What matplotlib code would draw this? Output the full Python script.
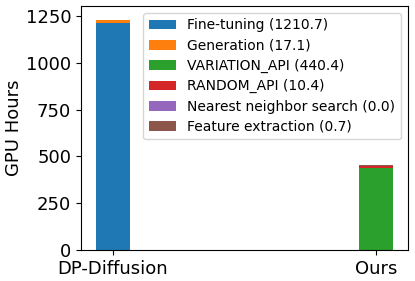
import matplotlib
matplotlib.use("Agg")
import matplotlib.pyplot as plt
import numpy as np

categories = ["DP-Diffusion", "Ours"]
components = ["Fine-tuning", "Generation", "VARIATION_API", "RANDOM_API",
              "Nearest neighbor search", "Feature extraction"]
dp_values = [1210.7, 17.1, 0.0, 0.0, 0.0, 0.0]
ours_values = [0.0, 0.0, 440.4, 10.4, 0.0, 0.7]
legend_values = [1210.7, 17.1, 440.4, 10.4, 0.0, 0.7]
colors = ["#1f77b4", "#ff7f0e", "#2ca02c", "#d62728", "#9467bd", "#8c564b"]

fig = plt.figure(figsize=(4.15, 2.81), dpi=100)
ax = fig.add_axes([0.195, 0.110, 0.788, 0.869])

x = np.arange(len(categories))
bottom = np.zeros(len(categories))
for i, comp in enumerate(components):
    vals = np.array([dp_values[i], ours_values[i]])
    ax.bar(x, vals, 0.13, bottom=bottom, color=colors[i],
           label=f"{comp} ({legend_values[i]:.1f})")
    bottom += vals

ax.set_xticks(x)
ax.set_xticklabels(categories, fontsize=13)
ax.tick_params(axis="y", labelsize=13)
ax.set_ylabel("GPU Hours", fontsize=13, labelpad=2)
ax.set_ylim(0, 1303)
ax.set_yticks([0, 250, 500, 750, 1000, 1250])
ax.legend(loc="upper right", fontsize=10, labelspacing=0.45)

fig.savefig("out.png", dpi=100)
